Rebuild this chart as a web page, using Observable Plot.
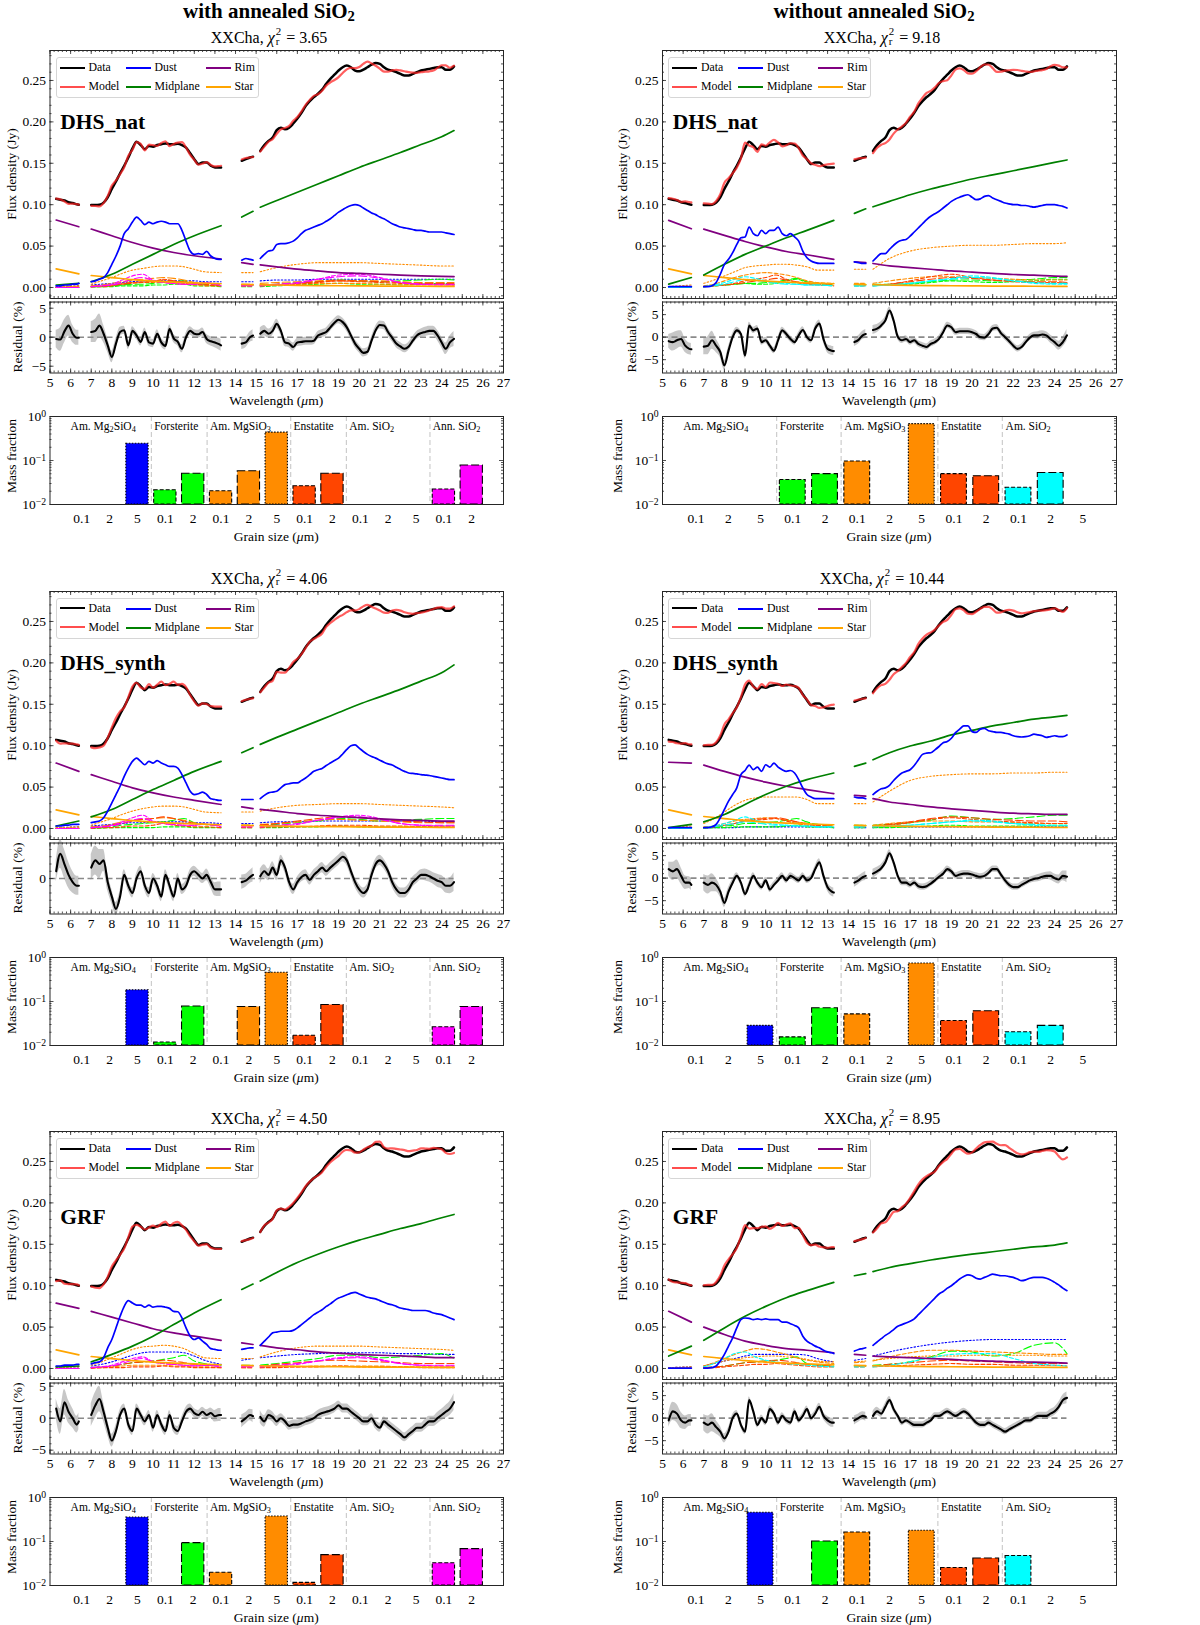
<!DOCTYPE html>
<html>
<head>
<meta charset="utf-8">
<title>XXCha dust fits</title>
<script src="https://cdn.jsdelivr.net/npm/d3@7"></script>
<script src="https://cdn.jsdelivr.net/npm/@observablehq/plot@0.6"></script>
<style>
  html, body { margin: 0; padding: 0; background: #fff; }
  #page { position: relative; width: 1200px; height: 1625px; overflow: hidden;
          font-family: "Liberation Serif", "Times New Roman", serif; color: #000; }
  .lbl { position: absolute; white-space: nowrap; transform: translate(-50%, -50%); line-height: 1; }
  .rot { transform: translate(-50%, -50%) rotate(-90deg); }
  .coltitle { font-weight: bold; font-size: 21px; }
  .sub { font-size: 16px; }
  .axlbl { font-size: 13.5px; }
  .legend { position: absolute; width: 203px; height: 41px; border: 1px solid #d6d6d6; border-radius: 3px;
            background: rgba(255,255,255,0.85); box-sizing: border-box; font-size: 11.8px; }
  .legend .h { position: absolute; width: 25px; height: 0; }
  .legend .t { position: absolute; transform: translateY(-50%); white-space: nowrap; line-height: 1; }
  .ss { display: inline-block; font-size: 0.68em; line-height: 0.9; vertical-align: -0.2em; text-align: left; margin: 0 1px; }
  sub { font-size: 0.7em; vertical-align: -0.25em; line-height: 0; }
</style>
</head>
<body>
<div id="page"></div>
<script>
// ---------------------------------------------------------------------------
// Spectral coverage (µm) and the shared wavelength grid of the spectrum
// ---------------------------------------------------------------------------
const segments = [[5.3, 6.4], [7.0, 13.3], [14.3, 14.85], [15.2, 24.6]];

const wave = [5.3,5.5,5.7,5.9,6.1,6.3,6.4,
  7.0,7.2,7.4,7.6,7.8,8.0,8.2,8.4,8.6,8.8,9.0,9.2,9.4,9.6,9.8,10.0,10.2,10.4,10.6,10.8,11.0,11.2,11.4,11.6,11.8,12.0,12.2,12.4,12.6,12.8,13.0,13.2,13.3,
  14.3,14.5,14.7,14.85,
  15.2,15.4,15.6,15.8,16.0,16.2,16.4,16.6,16.8,17.0,17.2,17.4,17.6,17.8,18.0,18.2,18.4,18.6,18.8,19.0,19.2,19.4,19.6,19.8,20.0,20.2,20.4,20.6,20.8,21.0,21.2,21.4,21.6,21.8,22.0,22.2,22.4,22.6,22.8,23.0,23.2,23.4,23.6,23.8,24.0,24.2,24.4,24.6];

// Observed flux density (Jy)
const flux = [.107,.106,.105,.103,.102,.1005,.100,
  .0995,.0995,.100,.1025,.109,.119,.128,.138,.147,.157,.168,.176,.172,.167,.171,.170,.172,.173,.174,.173,.173,.1735,.172,.169,.162,.155,.149,.151,.151,.147,.145,.145,.145,
  .153,.155,.157,.158,
  .165,.172,.177,.181,.190,.193,.191,.193,.198,.204,.211,.219,.225,.230,.234,.239,.246,.252,.257,.262,.266,.268,.266,.262,.261,.263,.266,.269,.271,.270,.266,.263,.262,.260,.258,.256,.256,.258,.260,.262,.263,.264,.265,.266,.266,.263,.263,.267];

// Relative flux uncertainty (%)
const errPct = [1.5,2.0,2.0,1.8,1.5,1.3,1.3,
  1.8,2.0,2.0,1.5,1.2,1.0,0.9,0.8,0.7,0.7,0.7,0.7,0.7,0.7,0.7,0.7,0.7,0.7,0.7,0.7,0.7,0.7,0.7,0.7,0.7,0.7,0.7,0.7,0.8,0.8,0.9,1.0,1.0,
  1.0,0.9,0.9,1.0,
  1.0,0.9,0.8,0.8,0.8,0.7,0.7,0.7,0.7,0.7,0.7,0.7,0.7,0.7,0.7,0.7,0.7,0.7,0.7,0.7,0.7,0.7,0.7,0.7,0.7,0.7,0.7,0.7,0.7,0.7,0.7,0.7,0.7,0.7,0.7,0.7,0.7,0.7,0.7,0.7,0.8,0.8,0.8,0.9,0.9,1.0,1.1,1.3];

// Residuals (data − model)/data in %, one series per fit
const resNatAnn = [-0.3,-0.4,1.0,2.0,0.6,-0.1,-0.1,
  0.9,1.1,2.0,0.6,-1.4,-3.4,-1.1,0.9,1.2,-1.4,1.1,0.3,-0.8,0.9,-0.9,-1.1,0.6,-0.9,-1.5,1.4,-0.2,-0.8,-2.0,0.0,1.1,0.6,0.5,0.9,-0.3,-0.7,-0.9,-1.2,-1.4,
  -1.1,-0.9,0.0,0.3,
  0.6,1.1,0.6,1.1,2.3,1.1,-0.9,-1.1,-1.7,-0.9,-0.8,-0.7,-0.7,-0.6,0.3,0.6,0.9,1.7,2.5,3.0,2.6,1.7,0.3,-1.1,-2.0,-2.7,-2.5,-0.6,1.2,2.1,2.0,0.9,-0.1,-1.1,-1.6,-2.0,-1.6,-0.6,0.3,0.7,0.9,1.1,1.1,0.3,-0.9,-2.0,-0.9,-0.3];
const resNat = [-0.9,-1.1,-0.7,-0.4,-1.9,-2.6,-2.7,
  -2.1,-1.9,-0.7,-1.9,-3.3,-6.3,-3.0,0.0,1.5,0.7,-4.1,2.6,1.5,1.9,-1.1,-0.7,-1.9,-3.0,-0.7,1.5,0.7,-0.4,-1.1,0.4,1.6,0.0,-0.7,1.9,3.0,-0.4,-2.6,-3.0,-3.1,
  -1.1,-0.6,0.4,0.7,
  1.6,1.9,2.6,3.7,5.9,3.7,0.1,-0.7,-0.4,-1.1,-0.7,-1.5,-1.9,-2.2,-1.5,-1.1,-0.4,1.1,2.6,2.2,1.1,1.3,1.3,1.3,1.1,0.7,0.0,-0.1,0.7,1.9,2.1,0.9,0.0,-0.9,-1.9,-2.6,-2.2,-1.1,-0.1,0.4,0.4,0.6,0.4,-0.4,-1.1,-1.9,-1.1,0.4];
const resSynthAnn = [1.0,3.4,2.0,0.5,-0.5,-1.0,-1.0,
  1.5,2.5,2.0,2.5,-0.5,-2.5,-4.2,-2.5,0.5,-1.0,-2.0,0.0,1.0,-1.0,-2.0,0.0,-1.0,-2.5,0.5,-1.0,-2.5,0.0,-1.5,-1.0,0.5,1.0,0.5,0.0,0.5,-0.5,-1.5,-1.5,-1.5,
  -0.5,-0.3,0.2,0.5,
  0.3,1.0,0.5,1.5,0.5,2.5,1.5,-0.5,-1.5,-0.5,0.2,0.5,-0.2,0.5,1.0,1.5,1.0,1.5,2.0,2.5,3.0,2.5,1.0,-0.5,-1.5,-2.0,-1.5,0.5,2.0,2.5,2.0,1.0,-0.5,-1.5,-2.0,-2.0,-1.5,-0.5,0.0,0.5,0.5,0.3,0.0,-0.3,-0.5,-1.0,-1.0,-0.5];
const resSynth = [2.0,1.5,2.0,0.5,-1.0,-1.0,-1.5,
  -1.0,-1.5,-1.0,-1.5,-3.0,-5.5,-3.0,-1.0,0.5,-1.0,-3.5,-1.5,0.5,-1.0,-2.0,-0.5,-2.5,-1.5,-0.5,0.5,-0.5,0.5,0.0,-0.5,0.5,-0.5,0.0,2.0,3.5,0.5,-2.0,-3.0,-3.2,
  -1.0,-0.5,0.2,0.5,
  1.0,1.5,2.2,3.5,5.5,3.5,0.5,-1.0,-1.0,-1.5,-1.0,-1.8,-2.0,-1.8,-1.2,-0.5,0.3,1.0,2.0,1.5,0.5,0.8,1.0,1.0,0.8,0.5,0.3,0.5,1.2,2.0,2.0,0.8,-0.5,-1.5,-2.0,-2.0,-1.5,-1.0,-0.5,-0.2,0.0,0.3,0.5,0.5,0.0,-0.3,0.5,0.3];
const resGrfAnn = [1.5,-0.5,2.5,1.0,0.0,-1.0,-0.5,
  0.5,2.0,3.0,1.0,-1.5,-3.5,-2.0,0.5,1.5,-1.0,-2.0,1.5,0.5,-0.5,0.5,-1.5,0.5,-1.0,-2.0,0.5,-1.5,-2.0,-0.5,1.0,1.5,0.8,0.5,1.0,0.5,0.8,0.3,0.5,0.5,
  -0.5,0.0,0.5,0.3,
  0.2,-0.5,0.5,0.2,-0.5,0.0,-0.5,-1.2,-1.0,-1.0,-0.8,-0.5,-0.3,0.0,0.5,0.8,1.0,1.2,1.5,2.0,1.5,1.5,1.0,0.5,0.0,-0.5,-0.5,0.0,-1.0,-1.5,-0.5,-1.0,-1.5,-2.0,-2.5,-3.0,-2.5,-2.0,-1.5,-1.5,-1.0,-0.5,-0.5,0.0,0.5,1.0,1.5,2.5];
const resGrf = [-0.5,1.5,1.0,-0.5,-1.0,-0.5,-0.5,
  -1.0,-1.5,-1.0,-2.0,-3.0,-4.5,-3.0,0.0,1.0,-1.5,-3.0,4.0,1.5,-1.5,0.0,-1.0,2.0,1.0,-1.0,0.5,-0.5,-1.0,1.5,-0.5,0.5,2.0,0.0,1.0,2.5,0.5,-0.5,-1.0,-1.0,
  -0.5,0.0,0.5,0.3,
  0.5,1.5,1.0,2.5,4.0,2.0,0.5,-1.0,-0.5,-1.0,-1.5,-1.5,-1.5,-1.0,-0.5,0.5,0.5,1.0,1.5,1.0,0.5,1.0,1.5,1.0,0.0,-1.0,-1.5,-1.5,-1.0,-1.5,-2.0,-2.5,-3.0,-2.5,-2.0,-1.5,-1.0,-0.5,-0.5,0.0,0.5,0.5,0.5,1.0,1.5,2.5,4.0,4.5];

// Total dust emission (Jy)
const dustNatAnn = [.002,.002,.003,.003,.004,.004,.005,
  .007,.008,.010,.012,.018,.028,.038,.050,.065,.071,.079,.085,.081,.076,.079,.077,.079,.080,.079,.077,.077,.077,.069,.056,.044,.040,.041,.040,.0435,.038,.035,.034,.034,
  .033,.035,.034,.033,
  .035,.040,.044,.045,.052,.053,.053,.054,.056,.060,.065,.069,.071,.073,.075,.077,.080,.083,.087,.091,.094,.097,.099,.100,.099,.096,.093,.090,.088,.085,.083,.080,.077,.075,.073,.072,.071,.070,.069,.069,.068,.067,.067,.067,.067,.066,.065,.064];
const dustNat = [.001,.001,.001,.001,.001,.001,.001,
  .001,.001,.002,.006,.016,.028,.034,.042,.052,.060,.061,.073,.065,.0625,.069,.065,.069,.069,.073,.065,.0625,.065,.061,.056,.044,.036,.032,.030,.029,.029,.029,.029,.029,
  .031,.030,.029,.029,
  .032,.037,.041,.041,.046,.051,.055,.057,.058,.062,.067,.072,.077,.082,.086,.089,.092,.096,.100,.104,.107,.109,.111,.112,.109,.106,.107,.110,.111,.108,.106,.104,.102,.101,.100,.100,.099,.099,.098,.097,.098,.099,.100,.100,.100,.099,.098,.096];
const dustSynthAnn = [.003,.003,.004,.004,.005,.005,.005,
  .007,.008,.009,.013,.021,.031,.041,.051,.063,.073,.081,.085,.081,.077,.081,.079,.082,.079,.077,.075,.075,.073,.065,.055,.045,.041,.042,.044,.041,.036,.035,.034,.034,
  .035,.035,.035,.035,
  .036,.040,.043,.044,.045,.049,.053,.054,.055,.055,.058,.061,.065,.069,.071,.0725,.076,.079,.082,.085,.090,.0955,.100,.101,.097,.093,.0895,.087,.085,.0825,.080,.078,.0766,.074,.0714,.069,.067,.0665,.066,.065,.0645,.064,.063,.062,.061,.060,.059,.059];
const dustSynth = [.001,.001,.001,.001,.001,.001,.001,
  .001,.001,.002,.005,.013,.023,.033,.041,.049,.065,.070,.0766,.071,.074,.069,.077,.074,.079,.074,.071,.069,.070,.067,.059,.049,.041,.038,.036,.036,.036,.036,.036,.036,
  .038,.037,.037,.036,
  .041,.045,.048,.049,.052,.058,.063,.067,.069,.071,.076,.083,.0895,.091,.0915,.095,.099,.1036,.105,.109,.1157,.120,.124,.124,.117,.116,.120,.121,.118,.117,.116,.116,.115,.114,.112,.111,.1105,.111,.112,.114,.113,.112,.110,.111,.112,.111,.111,.113];
const dustGrfAnn = [.003,.003,.004,.004,.004,.005,.005,
  .0056,.007,.008,.013,.025,.035,.049,.063,.075,.082,.079,.0766,.0766,.074,.0766,.074,.075,.075,.074,.0726,.069,.0685,.061,.049,.039,.035,.037,.033,.029,.024,.023,.022,.022,
  .023,.024,.025,.025,
  .028,.033,.038,.043,.044,.045,.045,.045,.046,.049,.053,.057,.061,.065,.068,.071,.075,.078,.082,.085,.087,.089,.091,.092,.090,.088,.086,.085,.084,.082,.080,.078,.077,.075,.073,.072,.071,.070,.070,.070,.070,.069,.067,.066,.065,.063,.061,.059];
const dustGrf = [.0005,.0005,.0005,.0005,.0005,.0005,.0005,
  .0005,.0005,.001,.003,.009,.017,.027,.037,.049,.059,.061,.0605,.059,.060,.059,.060,.059,.059,.059,.056,.056,.054,.052,.049,.039,.033,.030,.027,.025,.022,.020,.019,.018,
  .021,.023,.024,.025,
  .028,.032,.036,.040,.043,.047,.051,.053,.055,.057,.060,.065,.070,.075,.080,.085,.090,.093,.097,.100,.104,.108,.111,.113,.112,.109,.108,.110,.112,.114,.113,.112,.112,.111,.110,.108,.106,.107,.109,.110,.110,.110,.109,.107,.104,.101,.097,.094];

// Smooth continuum components on a coarse grid (Jy)
const waveC = [5.3,6.4,7.0,8,9,10,11,12,13.3,14.3,14.85,15.2,16,17,18,19,20,21,22,23,24,24.6];
const starFlux = [.0225,.0165,.0145,.012,.0095,.0078,.0065,.0055,.0045,.0038,.0035,.0033,.003,.0026,.0023,.0021,.0019,.0017,.0016,.0015,.0014,.0013];
const midNatAnn = [.003,.005,.007,.016,.028,.040,.052,.0625,.0746,.085,.092,.097,.105,.115,.125,.135,.145,.154,.163,.1726,.182,.1895];
const rimNatAnn = [.0815,.0734,.0706,.0625,.0544,.0476,.0423,.0383,.0343,.030,.028,.0274,.025,.0222,.020,.018,.017,.016,.015,.014,.0133,.013];
const midNat = [.004,.012,.015,.028,.040,.050,.060,.069,.081,.0895,.095,.0975,.104,.112,.119,.125,.131,.136,.141,.146,.151,.154];
const rimNat = [.081,.071,.0705,.063,.0556,.049,.0435,.0395,.034,.031,.030,.029,.026,.024,.022,.020,.0185,.017,.0157,.015,.0137,.0133];
const midSynthAnn = [.003,.009,.014,.023,.035,.047,.058,.069,.081,.0915,.0975,.1016,.110,.120,.130,.140,.150,.159,.168,.178,.188,.1976];
const rimSynthAnn = [.079,.069,.065,.057,.049,.043,.038,.034,.029,.026,.024,.023,.021,.018,.016,.0145,.013,.0117,.0105,.0097,.009,.009];
const midSynth = [.001,.005,.008,.017,.029,.041,.051,.059,.067,.075,.079,.083,.0915,.0996,.1056,.113,.1185,.124,.128,.132,.1347,.1367];
const rimSynth = [.080,.079,.0766,.069,.062,.056,.051,.047,.042,.040,.039,.036,.032,.029,.026,.0238,.0218,.020,.0185,.0177,.017,.017];
const midGrfAnn = [.002,.003,.008,.017,.027,.039,.053,.067,.083,.0955,.102,.1056,.116,.128,.138,.147,.155,.162,.169,.175,.182,.186];
const rimGrfAnn = [.079,.0726,.069,.062,.055,.048,.043,.039,.034,.031,.029,.028,.025,.0226,.020,.0185,.017,.016,.0153,.014,.013,.013];
const midGrf = [.015,.027,.034,.049,.063,.075,.0855,.094,.104,.112,.1145,.117,.122,.1266,.131,.1347,.138,.141,.144,.1468,.149,.1516];
const rimGrf = [.069,.056,.050,.041,.033,.028,.024,.022,.019,.017,.016,.015,.014,.013,.012,.011,.0097,.009,.008,.0077,.007,.0065];

// Individual dust species (m = species index, s = grain size in µm), Jy on waveS
const waveS = [5.3,6.4,7.0,7.5,8.0,8.5,9.0, 9.5,10,10.5,11,11.5,12,12.5, 13.3,14.3,14.85,15.2,16,17,18, 19,20,21,22,23,24,24.6];
const compsNatAnn = [
  {m:0, s:"5",   v:[.001,.002,.003,.004,.005,.006,.007, .008,.008,.008,.008,.008,.008,.007, .007,.007,.007,.008,.009,.009,.010, .010,.010,.010,.010,.010,.010,.010]},
  {m:1, s:"0.1", v:[0,0,.0005,.001,.001,.002,.002, .002,.003,.003,.004,.004,.002,.002, .001,.001,.001,.001,.002,.003,.004, .005,.004,.004,.003,.004,.005,.004]},
  {m:1, s:"2",   v:[0,0,.001,.001,.002,.003,.004, .004,.005,.006,.007,.008,.005,.004, .003,.003,.003,.003,.004,.006,.007, .009,.008,.007,.008,.009,.010,.009]},
  {m:2, s:"0.1", v:[0,.001,.001,.002,.003,.005,.006, .006,.006,.006,.005,.004,.003,.002, .002,.002,.002,.002,.003,.004,.005, .005,.005,.004,.004,.003,.003,.003]},
  {m:2, s:"2",   v:[0,.001,.002,.003,.005,.007,.009, .010,.011,.012,.011,.009,.006,.005, .004,.004,.004,.005,.006,.007,.008, .009,.008,.008,.007,.006,.006,.006]},
  {m:2, s:"5",   v:[.001,.002,.004,.008,.012,.017,.021, .023,.025,.026,.026,.025,.022,.019, .018,.018,.018,.019,.024,.028,.030, .030,.030,.029,.028,.027,.026,.026]},
  {m:3, s:"0.1", v:[0,0,.001,.001,.002,.004,.005, .006,.007,.010,.008,.005,.004,.003, .002,.002,.002,.002,.003,.004,.006, .008,.007,.006,.005,.004,.004,.003]},
  {m:3, s:"2",   v:[0,0,.001,.002,.003,.004,.006, .007,.008,.009,.008,.007,.005,.004, .003,.003,.003,.003,.004,.005,.007, .008,.008,.007,.006,.005,.005,.005]},
  {m:5, s:"0.1", v:[0,0,.001,.002,.004,.009,.014, .016,.009,.006,.005,.004,.004,.006, .002,.002,.002,.002,.003,.005,.010, .015,.016,.012,.006,.004,.003,.003]},
  {m:5, s:"2",   v:[0,0,.001,.002,.003,.006,.010, .012,.008,.006,.005,.004,.004,.005, .003,.003,.003,.003,.004,.006,.010, .013,.014,.011,.006,.004,.004,.004]}
];
const compsNat = [
  {m:1, s:"0.1", v:[0,0,.001,.002,.003,.004,.005, .004,.004,.005,.008,.010,.006,.004, .003,.003,.003,.003,.003,.004,.006, .008,.007,.006,.007,.008,.010,.010]},
  {m:1, s:"2",   v:[0,0,.001,.002,.003,.004,.005, .005,.006,.007,.009,.011,.007,.005, .004,.004,.004,.004,.004,.005,.007, .009,.009,.008,.009,.010,.012,.012]},
  {m:2, s:"0.1", v:[0,.001,.002,.004,.008,.012,.015, .017,.018,.017,.015,.012,.008,.006, .005,.005,.005,.005,.008,.011,.013, .013,.012,.011,.010,.009,.009,.009]},
  {m:2, s:"5",   v:[.001,.003,.005,.009,.014,.019,.024, .026,.027,.028,.028,.027,.025,.021, .021,.022,.022,.022,.035,.044,.048, .050,.051,.051,.052,.053,.053,.054]},
  {m:3, s:"0.1", v:[0,0,.001,.002,.003,.005,.008, .010,.012,.015,.010,.006,.004,.003, .002,.002,.002,.002,.004,.008,.013, .016,.012,.009,.007,.006,.006,.005]},
  {m:3, s:"2",   v:[0,0,.001,.002,.003,.004,.006, .008,.009,.011,.009,.007,.005,.004, .003,.003,.003,.003,.004,.007,.010, .012,.011,.009,.008,.007,.007,.006]},
  {m:4, s:"0.1", v:[0,0,.001,.003,.006,.010,.013, .011,.008,.006,.005,.004,.003,.003, .002,.002,.002,.002,.003,.005,.008, .011,.014,.012,.008,.005,.004,.004]},
  {m:4, s:"2",   v:[0,0,.001,.002,.004,.007,.010, .009,.007,.005,.004,.004,.003,.003, .002,.002,.002,.002,.003,.005,.008, .010,.012,.011,.008,.006,.005,.005]}
];
const compsSynthAnn = [
  {m:0, s:"5",   v:[.001,.002,.003,.004,.005,.006,.007, .007,.008,.008,.008,.008,.007,.007, .006,.006,.006,.007,.008,.008,.009, .009,.009,.009,.009,.009,.008,.008]},
  {m:1, s:"0.1", v:[0,0,0,.0005,.001,.001,.001, .001,.001,.002,.002,.002,.001,.001, .001,.001,.001,.001,.001,.002,.002, .003,.002,.002,.002,.002,.003,.003]},
  {m:1, s:"2",   v:[0,0,.001,.001,.002,.004,.005, .006,.007,.008,.010,.012,.007,.005, .004,.004,.004,.004,.005,.007,.009, .012,.011,.009,.010,.011,.012,.012]},
  {m:2, s:"2",   v:[0,.001,.002,.003,.005,.008,.010, .011,.012,.013,.012,.010,.007,.005, .004,.004,.004,.005,.006,.008,.010, .011,.010,.009,.008,.007,.007,.007]},
  {m:2, s:"5",   v:[.001,.002,.004,.008,.012,.017,.021, .024,.026,.027,.027,.026,.023,.020, .019,.020,.020,.021,.025,.028,.029, .030,.030,.029,.028,.027,.026,.025]},
  {m:3, s:"0.1", v:[0,0,0,.001,.001,.002,.003, .003,.004,.006,.004,.003,.002,.002, .001,.001,.001,.001,.002,.002,.003, .004,.004,.003,.003,.002,.002,.002]},
  {m:3, s:"2",   v:[0,0,.001,.002,.004,.006,.009, .011,.012,.014,.012,.009,.006,.005, .004,.004,.004,.004,.006,.009,.012, .014,.013,.011,.009,.008,.007,.007]},
  {m:5, s:"0.1", v:[0,0,.001,.002,.004,.008,.013, .016,.009,.006,.005,.004,.004,.005, .002,.002,.002,.002,.003,.005,.010, .014,.016,.012,.006,.004,.003,.003]},
  {m:5, s:"2",   v:[0,0,.001,.002,.003,.006,.010, .012,.008,.006,.005,.004,.004,.005, .003,.003,.003,.003,.004,.006,.010, .013,.014,.011,.006,.004,.004,.004]}
];
const compsSynth = [
  {m:0, s:"5",   v:[0,.0005,.001,.001,.001,.001,.002, .002,.002,.002,.002,.002,.002,.002, .001,.001,.001,.001,.002,.002,.002, .002,.002,.002,.002,.002,.002,.002]},
  {m:1, s:"0.1", v:[0,0,0,.001,.001,.002,.002, .002,.002,.002,.003,.004,.002,.002, .001,.001,.001,.001,.001,.002,.003, .004,.003,.003,.003,.003,.004,.004]},
  {m:1, s:"2",   v:[0,0,.001,.002,.003,.004,.006, .006,.007,.008,.010,.012,.008,.005, .004,.004,.004,.004,.005,.007,.010, .015,.013,.011,.012,.014,.016,.016]},
  {m:2, s:"0.1", v:[0,.001,.002,.003,.006,.009,.011, .012,.013,.012,.010,.008,.006,.004, .004,.004,.004,.004,.006,.008,.009, .009,.008,.008,.007,.006,.006,.006]},
  {m:2, s:"5",   v:[.001,.003,.006,.012,.020,.028,.034, .037,.038,.038,.038,.038,.035,.030, .030,.030,.030,.032,.045,.058,.063, .065,.066,.066,.067,.067,.068,.068]},
  {m:3, s:"0.1", v:[0,0,.001,.002,.004,.006,.009, .010,.011,.012,.009,.006,.004,.003, .002,.002,.002,.002,.004,.007,.011, .013,.011,.009,.008,.007,.006,.006]},
  {m:3, s:"2",   v:[0,0,.001,.002,.004,.006,.009, .011,.012,.013,.011,.008,.006,.004, .003,.003,.003,.003,.005,.008,.012, .014,.013,.011,.010,.009,.009,.008]},
  {m:4, s:"0.1", v:[0,0,.001,.003,.006,.010,.014, .010,.007,.005,.004,.003,.003,.002, .002,.002,.002,.002,.003,.004,.006, .008,.010,.009,.006,.004,.003,.003]},
  {m:4, s:"2",   v:[0,0,.001,.002,.004,.006,.008, .007,.005,.004,.004,.003,.003,.002, .002,.002,.002,.002,.003,.004,.006, .008,.009,.008,.006,.005,.004,.004]}
];
const compsGrfAnn = [
  {m:0, s:"5",   v:[.001,.002,.003,.005,.008,.012,.016, .019,.020,.020,.020,.019,.015,.010, .005,.010,.012,.013,.015,.017,.018, .019,.019,.019,.018,.018,.017,.017]},
  {m:1, s:"2",   v:[0,0,.001,.002,.003,.005,.007, .008,.009,.011,.013,.016,.009,.006, .004,.004,.004,.004,.006,.009,.012, .016,.016,.013,.014,.016,.018,.012]},
  {m:2, s:"0.1", v:[0,0,.001,.001,.002,.003,.004, .004,.004,.004,.003,.003,.002,.002, .001,.001,.001,.001,.002,.002,.003, .003,.003,.003,.002,.002,.002,.002]},
  {m:2, s:"5",   v:[.001,.002,.004,.008,.013,.018,.023, .026,.027,.028,.027,.024,.018,.013, .012,.012,.012,.014,.020,.025,.027, .027,.027,.026,.025,.024,.023,.022]},
  {m:3, s:"0.1", v:[0,0,0,.001,.001,.001,.002, .002,.002,.003,.002,.002,.001,.001, .001,.001,.001,.001,.001,.002,.002, .003,.002,.002,.002,.001,.001,.001]},
  {m:3, s:"2",   v:[0,0,.001,.002,.003,.005,.007, .008,.009,.010,.009,.007,.005,.004, .003,.003,.003,.003,.005,.007,.009, .010,.009,.008,.007,.006,.006,.006]},
  {m:5, s:"0.1", v:[0,0,.001,.002,.004,.008,.012, .014,.008,.006,.005,.004,.003,.004, .002,.002,.002,.002,.003,.005,.009, .013,.014,.011,.006,.004,.003,.003]},
  {m:5, s:"2",   v:[0,0,.001,.002,.003,.006,.010, .012,.008,.006,.005,.004,.004,.004, .003,.003,.003,.003,.004,.006,.009, .012,.013,.010,.006,.004,.004,.004]}
];
const compsGrf = [
  {m:0, s:"5",   v:[.001,.002,.003,.006,.009,.012,.015, .017,.017,.017,.017,.017,.016,.012, .008,.010,.012,.015,.020,.025,.029, .032,.034,.035,.035,.035,.035,.035]},
  {m:1, s:"2",   v:[0,0,.001,.002,.003,.005,.007, .008,.009,.010,.012,.014,.006,.004, .003,.003,.003,.004,.005,.008,.014, .021,.020,.015,.018,.028,.031,.018]},
  {m:2, s:"0.1", v:[0,.001,.003,.007,.012,.017,.021, .024,.023,.020,.017,.013,.010,.008, .006,.007,.008,.009,.014,.019,.022, .022,.021,.020,.019,.018,.017,.017]},
  {m:2, s:"5",   v:[.001,.002,.003,.006,.009,.011,.013, .014,.015,.015,.014,.013,.011,.009, .008,.008,.009,.010,.012,.014,.015, .015,.016,.016,.016,.016,.015,.015]},
  {m:3, s:"0.1", v:[0,0,.001,.001,.002,.003,.004, .005,.005,.006,.005,.004,.003,.002, .002,.002,.002,.002,.003,.004,.005, .006,.005,.005,.004,.004,.004,.003]},
  {m:3, s:"2",   v:[0,0,.001,.002,.003,.005,.007, .008,.009,.010,.009,.007,.005,.004, .003,.003,.003,.003,.005,.007,.009, .010,.009,.008,.007,.006,.006,.006]},
  {m:4, s:"0.1", v:[0,0,.002,.006,.012,.018,.020, .014,.010,.008,.006,.005,.004,.003, .002,.002,.002,.002,.004,.008,.013, .017,.018,.018,.012,.006,.004,.003]}
];

// Dust species, grain sizes and fitted mass fractions (null = not used)
const materials = ["Am. Mg₂SiO₄", "Forsterite", "Am. MgSiO₃", "Enstatite", "Am. SiO₂", "Ann. SiO₂"];
const materialSizes = [["0.1","2","5"], ["0.1","2"], ["0.1","2","5"], ["0.1","2"], ["0.1","2","5"], ["0.1","2"]];
const massNatAnn   = [null,null,0.24,  0.021,0.050,  0.020,0.057,0.43,  0.026,0.050,  null,null,null,  0.022,0.077];
const massNat      = [null,null,null,  0.036,0.049,  0.095,null,0.67,   0.049,0.044,  0.024,0.052,null];
const massSynthAnn = [null,null,0.18,  0.0117,0.077, null,0.075,0.45,   0.0167,0.083, null,null,null,  0.026,0.075];
const massSynth    = [null,null,0.028, 0.0153,0.070, 0.051,null,0.73,   0.036,0.060,  0.020,0.028,null];
const massGrfAnn   = [null,null,0.35,  null,0.092,   0.0195,null,0.37,  0.0115,0.049, null,null,null,  0.032,0.067];
const massGrf      = [null,null,0.45,  null,0.10,    0.16,null,0.176,   0.025,0.041,  0.047,null,null];

// Axis ticks and labels
const waveTicks = [5,6,7,8,9,10,11,12,13,14,15,16,17,18,19,20,21,22,23,24,25,26,27];
const fluxTicks = [0, 0.05, 0.10, 0.15, 0.20, 0.25];
const resTicks = [-5, 0, 5];
const massTicks = [0.01, 0.1, 1];
const massTickLabels = ["10⁻²", "10⁻¹", "10⁰"];
const columnTitles = ["with annealed SiO₂", "without annealed SiO₂"];
const legendItems = [["Data","#000000"],["Model","#ff4d4d"],["Dust","#0000ff"],["Midplane","#008000"],["Rim","#800080"],["Star","#ffa500"]];

// ---------------------------------------------------------------------------
// Styling and layout
// ---------------------------------------------------------------------------
const matColors = ["#0000ff", "#00ff00", "#ff8c00", "#ff4500", "#00ffff", "#ff00ff"];
const barDash = {"0.1": "4,2", "2": "8,3", "5": "1.5,1.5"};
const lineDash = {"0.1": "4,2", "2": "8,3", "5": "1.5,2"};
const waveDomain = [5, 27];
const fluxDomain = [-0.0133, 0.2862];
const massDomain = [0.01, 1];
const barHalf = 0.4;
const FONT = '"Liberation Serif", "Times New Roman", serif';
const plotStyle = {fontFamily: FONT, fontSize: "13.5px", background: "none", overflow: "visible", maxWidth: "none", color: "#000"};
const AX = "#262626";

const rowDy = [0, 540.5, 1081];
const cols = [
  {left: 0,   fL: 49.5, fR: 503, title: 269, sub: 269, yFlux: 12,  yRes: 18,  yMass: 12},
  {left: 600, fL: 62,   fR: 516, title: 874, sub: 882, yFlux: 623, yRes: 632, yMass: 618}
];

const panels = [
  {col:0, row:0, tag:"DHS_nat",   tagY:0.20,  chi:"3.65",  res:resNatAnn,   dust:dustNatAnn,   mid:midNatAnn,   rim:rimNatAnn,   comps:compsNatAnn,   mass:massNatAnn,   nMat:6, resDomain:[-6.17, 6.07]},
  {col:1, row:0, tag:"DHS_nat",   tagY:0.20,  chi:"9.18",  res:resNat,      dust:dustNat,      mid:midNat,      rim:rimNat,      comps:compsNat,      mass:massNat,      nMat:5, resDomain:[-7.96, 7.8]},
  {col:0, row:1, tag:"DHS_synth", tagY:0.20,  chi:"4.06",  res:resSynthAnn, dust:dustSynthAnn, mid:midSynthAnn, rim:rimSynthAnn, comps:compsSynthAnn, mass:massSynthAnn, nMat:6, resDomain:[-4.9, 4.9]},
  {col:1, row:1, tag:"DHS_synth", tagY:0.20,  chi:"10.44", res:resSynth,    dust:dustSynth,    mid:midSynth,    rim:rimSynth,    comps:compsSynth,    mass:massSynth,    nMat:5, resDomain:[-7.96, 7.8]},
  {col:0, row:2, tag:"GRF",       tagY:0.183, chi:"4.50",  res:resGrfAnn,   dust:dustGrfAnn,   mid:midGrfAnn,   rim:rimGrfAnn,   comps:compsGrfAnn,   mass:massGrfAnn,   nMat:6, resDomain:[-5.6, 5.5]},
  {col:1, row:2, tag:"GRF",       tagY:0.183, chi:"8.95",  res:resGrf,      dust:dustGrf,      mid:midGrf,      rim:rimGrf,      comps:compsGrf,      mass:massGrf,      nMat:5, resDomain:[-7.96, 7.8]}
];

// ---------------------------------------------------------------------------
// Helpers
// ---------------------------------------------------------------------------
const segOf = w => segments.findIndex(([a, b]) => w >= a - 1e-9 && w <= b + 1e-9);
const page = document.getElementById("page");

function addDiv(cls, html, x, y) {
  const d = document.createElement("div");
  d.className = cls; d.innerHTML = html;
  d.style.left = x + "px"; d.style.top = y + "px";
  page.appendChild(d);
  return d;
}
function addSvg(svg, x, y) {
  const w = document.createElement("div");
  w.style.position = "absolute"; w.style.left = x + "px"; w.style.top = y + "px";
  w.appendChild(svg);
  page.appendChild(w);
}

// Inward ticks on both opposite spines
function ticksX(vals, len, fh) {
  return [Plot.tickX(vals, {x: d => d, insetTop: fh - len, stroke: AX, strokeWidth: 0.8}),
          Plot.tickX(vals, {x: d => d, insetBottom: fh - len, stroke: AX, strokeWidth: 0.8})];
}
function ticksY(vals, len, fw) {
  return [Plot.tickY(vals, {y: d => d, insetRight: fw - len, stroke: AX, strokeWidth: 0.8}),
          Plot.tickY(vals, {y: d => d, insetLeft: fw - len, stroke: AX, strokeWidth: 0.8})];
}

// Turn Unicode sub/superscript characters into shifted tspans
const SUB = {"₀":"0","₁":"1","₂":"2","₃":"3","₄":"4"};
const SUP = {"⁰":"0","¹":"1","²":"2","⁻":"−"};
function shiftScripts(root) {
  const ns = "http://www.w3.org/2000/svg";
  root.querySelectorAll("text").forEach(t => {
    const targets = t.querySelector("tspan") ? [...t.querySelectorAll("tspan")] : [t];
    targets.forEach(n => {
      const s = n.textContent;
      if (![...s].some(c => SUB[c] || SUP[c])) return;
      const runs = [];
      for (const c of s) {
        const kind = SUB[c] ? "sub" : SUP[c] ? "sup" : "n";
        const ch = SUB[c] || SUP[c] || c;
        if (runs.length && runs[runs.length - 1].kind === kind) runs[runs.length - 1].s += ch;
        else runs.push({kind, s: ch});
      }
      n.textContent = "";
      runs.forEach(r => {
        const ts = document.createElementNS(ns, "tspan");
        ts.textContent = r.s;
        if (r.kind === "sub") { ts.setAttribute("baseline-shift", "-22%"); ts.setAttribute("font-size", "72%"); }
        if (r.kind === "sup") { ts.setAttribute("baseline-shift", "38%"); ts.setAttribute("font-size", "72%"); }
        n.appendChild(ts);
      });
    });
  });
}

// ---------------------------------------------------------------------------
// Panels
// ---------------------------------------------------------------------------
function spectrumPlot(p, g) {
  const fw = g.fR - g.fL, fh = 248;
  const pts = wave.map((w, i) => ({w, s: segOf(w), data: flux[i], model: flux[i] * (1 - p.res[i] / 100), dust: p.dust[i]}));
  const cont = waveC.map((w, i) => ({w, s: segOf(w), mid: p.mid[i], rim: p.rim[i], star: starFlux[i]}));
  return Plot.plot({
    width: 600, height: 262, marginLeft: g.fL, marginRight: 600 - g.fR, marginTop: 6, marginBottom: 8,
    x: {domain: waveDomain, axis: null}, y: {domain: fluxDomain, axis: null},
    style: plotStyle,
    marks: [
      ...p.comps.map(c => Plot.line(waveS, {x: w => w, y: (w, i) => c.v[i], z: w => segOf(w),
        stroke: matColors[c.m], strokeWidth: 1.1, strokeDasharray: lineDash[c.s], curve: "monotone-x"})),
      Plot.line(cont, {x: "w", y: "star", z: "s", stroke: "#ffa500", strokeWidth: 1.7, curve: "monotone-x"}),
      Plot.line(cont, {x: "w", y: "rim", z: "s", stroke: "#800080", strokeWidth: 1.7, curve: "monotone-x"}),
      Plot.line(cont, {x: "w", y: "mid", z: "s", stroke: "#008000", strokeWidth: 1.7, curve: "monotone-x"}),
      Plot.line(pts, {x: "w", y: "dust", z: "s", stroke: "#0000ff", strokeWidth: 1.7, curve: "monotone-x"}),
      Plot.line(pts, {x: "w", y: "data", z: "s", stroke: "#000", strokeWidth: 2.5, curve: "monotone-x"}),
      Plot.line(pts, {x: "w", y: "model", z: "s", stroke: "#ff2020", strokeOpacity: 0.72, strokeWidth: 2.2, curve: "monotone-x"}),
      Plot.text([p.tag], {x: () => 5.5, y: () => p.tagY, text: d => d, textAnchor: "start", lineAnchor: "middle",
        fontSize: 21.5, fontWeight: "bold"}),
      ...ticksX(d3.range(5, 27.001, 0.2), 2, fh),
      ...ticksX(waveTicks, 4, fh),
      ...ticksY(d3.range(-0.01, 0.2801, 0.01), 2, fw),
      ...ticksY(fluxTicks, 4, fw),
      Plot.text(fluxTicks, {y: d => d, text: d => d3.format(".2f")(d), frameAnchor: "left", textAnchor: "end", dx: -4, fontSize: 13.5}),
      Plot.frame({stroke: AX, strokeWidth: 1})
    ]
  });
}

function residualPlot(p, g) {
  const fw = g.fR - g.fL, fh = 71;
  const pts = wave.map((w, i) => ({w, s: segOf(w), r: p.res[i], e: errPct[i]}));
  const [lo, hi] = p.resDomain;
  const shown = resTicks.filter(t => t >= lo && t <= hi);
  return Plot.plot({
    width: 600, height: 110, marginLeft: g.fL, marginRight: 600 - g.fR, marginTop: 2.5, marginBottom: 36.5,
    x: {domain: waveDomain, axis: null}, y: {domain: p.resDomain, axis: null},
    style: plotStyle,
    marks: [
      Plot.areaY(pts, {x: "w", y1: d => d.r - d.e, y2: d => d.r + d.e, z: "s", fill: "#b4b4b4", fillOpacity: 0.75, curve: "monotone-x"}),
      Plot.ruleY([0], {x1: waveDomain[0], x2: d3.max(wave), stroke: "#8a8a8a", strokeWidth: 1.6, strokeDasharray: "6,3.5"}),
      Plot.line(pts, {x: "w", y: "r", z: "s", stroke: "#000", strokeWidth: 2.1, curve: "monotone-x"}),
      ...ticksX(d3.range(5, 27.001, 0.2), 2, fh),
      ...ticksX(waveTicks, 4, fh),
      ...ticksY(d3.range(Math.ceil(lo), Math.floor(hi) + 1, 1), 2, fw),
      ...ticksY(shown, 4, fw),
      Plot.text(shown, {y: d => d, text: d => d < 0 ? "−" + Math.abs(d) : String(d), frameAnchor: "left", textAnchor: "end", dx: -4, fontSize: 13.5}),
      Plot.text(waveTicks, {x: d => d, text: d => String(d), frameAnchor: "bottom", lineAnchor: "middle", dy: 10, fontSize: 13.5}),
      Plot.frame({stroke: AX, strokeWidth: 1})
    ]
  });
}

function massPlot(p, g) {
  const fw = g.fR - g.fL;
  const slots = [];
  materials.slice(0, p.nMat).forEach((name, m) => materialSizes[m].forEach(s => slots.push({m, s})));
  slots.forEach((d, i) => { d.i = i; d.v = p.mass[i]; });
  const groups = [];
  slots.forEach(d => { if (!groups.length || groups[groups.length - 1].m !== d.m) groups.push({m: d.m, name: materials[d.m], start: d.i}); });
  const seps = groups.slice(1).map(gr => gr.start - 0.5);
  const n = slots.length, pad = 0.05 * (n - 1 + 2 * barHalf);
  const minor = [2,3,4,5,6,7,8,9].flatMap(k => [k * 0.01, k * 0.1]);
  return Plot.plot({
    width: 600, height: 122, marginLeft: g.fL, marginRight: 600 - g.fR, marginTop: 6, marginBottom: 28,
    x: {domain: [-barHalf - pad, n - 1 + barHalf + pad], axis: null},
    y: {type: "log", domain: massDomain, axis: null},
    color: {type: "identity"},
    style: plotStyle,
    marks: [
      Plot.ruleX(seps, {x: d => d, stroke: "#cdcdcd", strokeWidth: 1.2, strokeDasharray: "5,3"}),
      ...["0.1", "2", "5"].map(size => Plot.rect(slots.filter(d => d.s === size && d.v != null), {
        x1: d => d.i - barHalf, x2: d => d.i + barHalf, y1: massDomain[0], y2: "v",
        fill: d => matColors[d.m], stroke: "#000", strokeWidth: 1.1, strokeDasharray: barDash[size]})),
      Plot.text(groups, {x: d => d.start - barHalf, text: "name", frameAnchor: "top", textAnchor: "start", lineAnchor: "middle", dy: 10, fontSize: 11.5}),
      Plot.text(slots, {x: "i", text: "s", frameAnchor: "bottom", lineAnchor: "middle", dy: 14, fontSize: 13.5}),
      ...ticksY(minor, 2, fw),
      ...ticksY(massTicks, 4, fw),
      Plot.text(massTicks, {y: d => d, text: (d, i) => massTickLabels[i], frameAnchor: "left", textAnchor: "end", dx: -4, fontSize: 13.5}),
      Plot.frame({stroke: AX, strokeWidth: 1})
    ]
  });
}

function legend(x, y) {
  const box = document.createElement("div");
  box.className = "legend";
  box.style.left = x + "px"; box.style.top = y + "px";
  const colX = [3, 69, 149];
  const rowY = [10, 29];
  legendItems.forEach(([name, color], k) => {
    const cx = colX[Math.floor(k / 2)], cy = rowY[k % 2];
    const h = document.createElement("div");
    h.className = "h";
    const wide = k < 2;
    h.style.left = cx + "px"; h.style.top = (cy - (wide ? 1.25 : 1)) + "px";
    h.style.borderTop = (wide ? 2.5 : 2) + "px solid " + color;
    const t = document.createElement("div");
    t.className = "t"; t.textContent = name;
    t.style.left = (cx + 29) + "px"; t.style.top = cy + "px";
    box.appendChild(h); box.appendChild(t);
  });
  page.appendChild(box);
}

// ---------------------------------------------------------------------------
// Render
// ---------------------------------------------------------------------------
columnTitles.forEach((t, c) => addDiv("lbl coltitle", t.replace("₂", "<sub>2</sub>"), cols[c].title, 11));

panels.forEach(p => {
  const g = cols[p.col], dy = rowDy[p.row];
  const cx = g.left + (g.fL + g.fR) / 2;

  addDiv("lbl sub", `XXCha, <i>χ</i><span class="ss">2<br>r</span> = ${p.chi}`, g.sub, 37 + dy);

  const s1 = spectrumPlot(p, g); shiftScripts(s1); addSvg(s1, g.left, 44 + dy);
  const s2 = residualPlot(p, g); shiftScripts(s2); addSvg(s2, g.left, 299 + dy);
  const s3 = massPlot(p, g);     shiftScripts(s3); addSvg(s3, g.left, 410 + dy);

  legend(g.left + g.fL + 6, 57 + dy);

  addDiv("lbl rot axlbl", "Flux density (Jy)", g.yFlux, 174 + dy);
  addDiv("lbl rot axlbl", "Residual (%)", g.yRes, 337 + dy);
  addDiv("lbl axlbl", "Wavelength (<i>μ</i>m)", cx, 401 + dy);
  addDiv("lbl rot axlbl", "Mass fraction", g.yMass, 456 + dy);
  addDiv("lbl axlbl", "Grain size (<i>μ</i>m)", cx, 537 + dy);
});
</script>
</body>
</html>
